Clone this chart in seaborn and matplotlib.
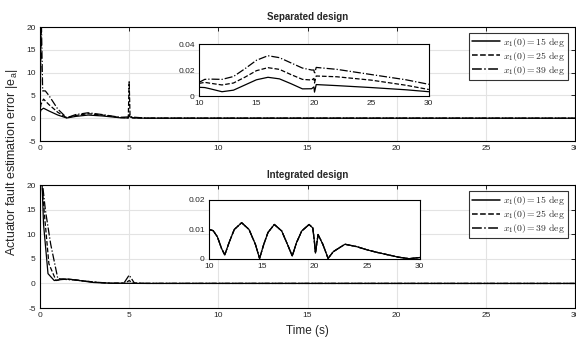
import matplotlib
matplotlib.use("Agg")
import matplotlib.pyplot as plt
import seaborn as sns

# ---- data ----
labels = ["$x_1(0) = 15\\ \\mathrm{deg}$",
          "$x_1(0) = 25\\ \\mathrm{deg}$",
          "$x_1(0) = 39\\ \\mathrm{deg}$"]

# Separated design, full range
sep_t15 = [0, 0.05, 0.2, 0.5, 1.0, 1.5, 2.0, 2.7, 3.5, 4.5, 4.95, 5.0, 5.05, 5.2, 6, 10, 20, 30]
sep_v15 = [1.0, 1.8, 2.2, 1.6, 0.7, 0.05, 0.4, 0.7, 0.5, 0.1, 0.05, 0.8, 0.3, 0.05, 0.01, 0.006, 0.007, 0.003]
sep_t25 = [0, 0.05, 0.2, 0.5, 1.0, 1.5, 2.0, 2.7, 3.5, 4.5, 4.95, 5.0, 5.05, 5.2, 6, 10, 20, 30]
sep_v25 = [1.0, 3.0, 4.2, 3.0, 1.3, 0.1, 0.6, 1.0, 0.7, 0.15, 0.1, 8.0, 0.5, 0.1, 0.02, 0.01, 0.014, 0.005]
sep_t39 = [0, 0.08, 0.15, 0.3, 0.5, 1.0, 1.5, 2.0, 2.7, 3.5, 4.5, 5.0, 6, 10, 20, 30]
sep_v39 = [1.0, 21, 6.0, 6.0, 5.0, 2.0, 0.1, 0.8, 1.2, 0.8, 0.2, 0.3, 0.02, 0.01, 0.02, 0.008]

# Separated design, zoom 10-30 s
sep_zt = [10, 10.5, 11, 12, 13, 14, 15, 16, 17, 18, 19, 19.8, 20.0, 20.05, 20.2, 22, 25, 28, 30]
sep_z15 = [0.0067, 0.0065, 0.0055, 0.0033, 0.0045, 0.0085, 0.0125, 0.0144, 0.0132, 0.0095, 0.0055, 0.0056, 0.0070, 0.0030, 0.0088, 0.0080, 0.0065, 0.0048, 0.0033]
sep_z25 = [0.0097, 0.0105, 0.0098, 0.0085, 0.0100, 0.0145, 0.0195, 0.0218, 0.0205, 0.0165, 0.0128, 0.0123, 0.0135, 0.0100, 0.0154, 0.0148, 0.0122, 0.0083, 0.0050]
sep_z39 = [0.0105, 0.0128, 0.0130, 0.0128, 0.0150, 0.0210, 0.0275, 0.0310, 0.0295, 0.0255, 0.0215, 0.0200, 0.0200, 0.0170, 0.0220, 0.0205, 0.0165, 0.0125, 0.0090]

# Integrated design, full range
int_t15 = [0, 0.12, 0.2, 0.45, 0.8, 1.2, 1.6, 2.2, 3, 4, 6, 30]
int_v15 = [22, 20, 12, 2.0, 0.6, 0.8, 0.9, 0.6, 0.2, 0.05, 0.01, 0.005]
int_t25 = [0, 0.12, 0.25, 0.5, 0.9, 1.3, 1.8, 2.5, 3.3, 4, 4.8, 5.0, 5.2, 6, 30]
int_v25 = [22, 20, 14, 4.0, 0.6, 0.9, 0.8, 0.5, 0.2, 0.05, 0.1, 0.6, 0.1, 0.02, 0.01]
int_t39 = [0, 0.15, 0.3, 0.6, 1.0, 1.5, 2, 3, 4, 4.7, 5.0, 5.3, 6, 30]
int_v39 = [22, 20, 15, 8.0, 1.0, 0.8, 0.7, 0.3, 0.05, 0.05, 1.7, 0.05, 0.02, 0.01]

# Integrated design, zoom 10-30 s (three cases overlap)
int_zt = [10, 10.4, 10.8, 11.2, 11.5, 11.9, 12.4, 13.1, 13.8, 14.4, 14.8, 15.2, 15.6, 16.2,
          16.9, 17.5, 17.9, 18.3, 18.8, 19.5, 19.85, 20.0, 20.1, 20.35, 20.8, 21.3, 21.8,
          22.9, 24, 25, 26, 27, 28, 29, 30]
int_z15 = [0.0100, 0.0096, 0.0075, 0.0035, 0.0014, 0.0055, 0.0100, 0.0123, 0.0100, 0.0050,
           0.0002, 0.0050, 0.0090, 0.0117, 0.0095, 0.0045, 0.0010, 0.0055, 0.0095, 0.0117,
           0.0105, 0.0060, 0.0020, 0.0083, 0.0050, 0.0002, 0.0025, 0.0050, 0.0042, 0.0031,
           0.0022, 0.0014, 0.0006, 0.0001, 0.0005]
int_z25 = int_z15
int_z39 = int_z15

x_ticks = [0, 5, 10, 15, 20, 25, 30]
y_ticks = [-5, 0, 5, 10, 15, 20]
zoom_x_ticks = [10, 15, 20, 25, 30]
sep_zoom_y_ticks = [0, 0.02, 0.04]
sep_zoom_y_labels = ["0", "0.02", "0.04"]
int_zoom_y_ticks = [0, 0.01, 0.02]
int_zoom_y_labels = ["0", "0.01", "0.02"]

styles = ["-", "--", "-."]

sns.set_style("white")
plt.rcParams["font.family"] = ["Liberation Sans", "DejaVu Sans"]
plt.rcParams["mathtext.fontset"] = "cm"
plt.rcParams["axes.unicode_minus"] = False


def style_axes(ax, grid=True):
    for s in ax.spines.values():
        s.set_color("black")
        s.set_linewidth(0.8)
    ax.tick_params(direction="in", length=3, width=0.6, labelsize=6,
                   top=True, right=True, colors="black", labelcolor="#262626", pad=3)
    if grid:
        ax.grid(True, color="#e3e3e3", linewidth=0.8)
        ax.set_axisbelow(True)
    else:
        ax.grid(False)


def main_panel(ax, ts, vs, title):
    for t, v, ls, lab in zip(ts, vs, styles, labels):
        sns.lineplot(x=t, y=v, ax=ax, color="black", linestyle=ls, linewidth=0.9,
                     label=lab, sort=False)
    ax.set_xlim(0, 30)
    ax.set_ylim(-5, 20)
    ax.set_xticks(x_ticks)
    ax.set_yticks(y_ticks)
    ax.set_xlabel("")
    ax.set_ylabel("")
    ax.set_title(title, fontsize=7, fontweight="bold", pad=5)
    style_axes(ax)
    leg = ax.legend(loc="upper right", fontsize=7, frameon=True, fancybox=False,
                    handlelength=2.9, handletextpad=0.3, borderpad=0.3,
                    labelspacing=0.1, borderaxespad=0, bbox_to_anchor=(0.986, 0.95))
    leg.get_frame().set_edgecolor("black")
    leg.get_frame().set_linewidth(0.8)
    for line in leg.get_lines():
        line.set_linewidth(1.1)


def zoom_panel(ax, t, vs, yt, yl):
    for v, ls in zip(vs, styles):
        sns.lineplot(x=t, y=v, ax=ax, color="black", linestyle=ls, linewidth=0.9, sort=False)
    ax.set_xlim(10, 30)
    ax.set_ylim(yt[0], yt[-1])
    ax.set_xticks(zoom_x_ticks)
    ax.set_yticks(yt)
    ax.set_yticklabels(yl)
    ax.set_xlabel("")
    ax.set_ylabel("")
    style_axes(ax, grid=False)
    ax.tick_params(top=False, right=False)


fig = plt.figure(figsize=(5.76, 3.45), dpi=100)

ax1 = fig.add_axes([0.0694, 0.5913, 0.929, 0.330])
main_panel(ax1, [sep_t15, sep_t25, sep_t39], [sep_v15, sep_v25, sep_v39], "Separated design")

ax2 = fig.add_axes([0.0694, 0.107, 0.929, 0.3565])
main_panel(ax2, [int_t15, int_t25, int_t39], [int_v15, int_v25, int_v39], "Integrated design")
ax2.set_xlabel("Time (s)", fontsize=8.5, color="#262626", labelpad=4)

ins1 = fig.add_axes([0.3455, 0.7217, 0.399, 0.1507])
zoom_panel(ins1, sep_zt, [sep_z15, sep_z25, sep_z39], sep_zoom_y_ticks, sep_zoom_y_labels)

ins2 = fig.add_axes([0.3628, 0.2493, 0.366, 0.171])
zoom_panel(ins2, int_zt, [int_z15, int_z25, int_z39], int_zoom_y_ticks, int_zoom_y_labels)

fig.text(0.02, 0.53, "Actuator fault estimation error |e$_\\mathregular{a}$|",
         rotation=90, va="center", ha="center", fontsize=9, color="#262626")

fig.savefig("out.png", dpi=100)
plt.close(fig)
